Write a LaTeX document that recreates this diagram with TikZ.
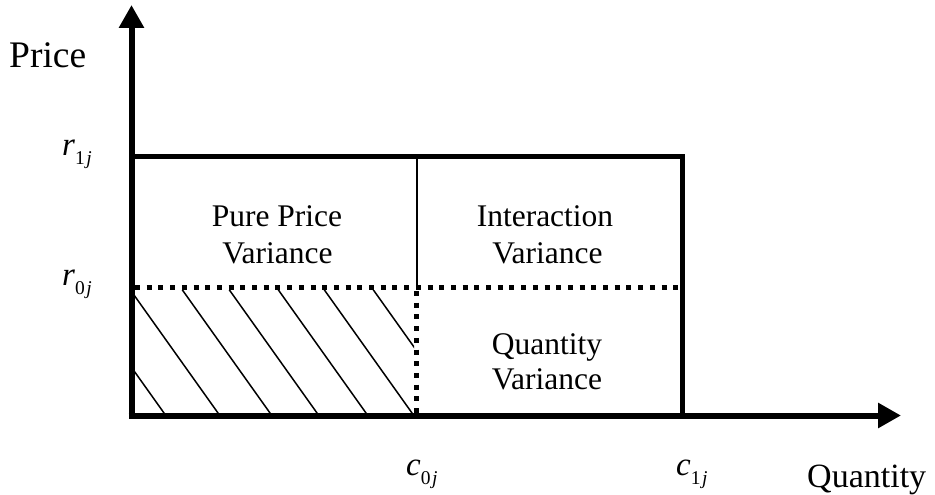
\documentclass[tikz,border=0pt]{standalone}
\usepackage{fontspec}
\setmainfont{Liberation Serif}
\usetikzlibrary{arrows.meta}
% italic letter with a small "digit j" subscript
\newcommand{\varlabel}[3]{{\fontsize{33}{35}\selectfont\textit{#1}}\raisebox{-9pt}{\fontsize{19.5}{20}\selectfont #2\hspace{1.5pt}\textit{#3}}}
\begin{document}
\begin{tikzpicture}[x=1pt,y=-1pt,
  axis/.style={line width=6pt,-{Triangle[width=24pt,length=23pt]}},
  frame/.style={line width=5pt,line join=miter},
  thinline/.style={line width=1.4pt},
  dots/.style={line width=5pt,dash pattern=on 5pt off 6.7pt},
  hatch/.style={line width=1.5pt},
  big/.style={font=\fontsize{36}{40}\selectfont,inner sep=0pt,anchor=base west},
  area/.style={font=\fontsize{31.5}{37}\selectfont,inner sep=0pt,anchor=base},
  sym/.style={inner sep=0pt,anchor=base west}]
\useasboundingbox (0,0) rectangle (935,495);

% corner points of the regions
\coordinate (Yt) at (131.5,5);
\coordinate (Xt) at (901,415.5);
\coordinate (R1) at (131,156);
\coordinate (C1) at (682,156);
\coordinate (C1b) at (682,415);
\coordinate (M1) at (417,156);
\coordinate (M0) at (417,288);
\coordinate (R0) at (135,287.5);
\coordinate (E0) at (683,287.5);
\coordinate (Q0) at (416,291);
\coordinate (Q0b) at (416,413);

% hatched base area
\begin{scope}
  \clip (133.5,290) rectangle (414,412.5);
  \foreach \b in {164,218,270,317,366,412,461}
    \draw[hatch] ({\b-0.712*135},278) -- ({\b+0.712*10},423);
\end{scope}

% dotted boundaries of the base area
\draw[dots] (R0) -- (E0);
\draw[dots] (Q0) -- (Q0b);

% new price / new quantity frame
\draw[thinline] (M1) -- (M0);
\draw[frame] (R1) -- (C1) -- (C1b);

% axes
\draw[axis] (131.5,418.5) -- (Yt);
\draw[axis] (128.5,415.5) -- (Xt);

% axis titles
\node[big,font=\fontsize{37.5}{40}\selectfont] (price) at (9,68) {Price};
\node[big,font=\fontsize{34}{40}\selectfont] (qty) at (807,487) {Quantity};

% tick labels
\node[sym] (r1) at (62,155) {\varlabel{r}{1}{j}};
\node[sym] (r0) at (62,285) {\varlabel{r}{0}{j}};
\node[sym] (c0) at (406,475) {\varlabel{c}{0}{j}};
\node[sym] (c1) at (676,475) {\varlabel{c}{1}{j}};

% region labels
\node[area] (pp1) at (277,226) {Pure Price};
\node[area] (pp2) at (277.5,263) {Variance};
\node[area] (iv1) at (545,226) {Interaction};
\node[area] (iv2) at (547.5,263) {Variance};
\node[area] (qv1) at (547,354) {Quantity};
\node[area] (qv2) at (547,389) {Variance};
\end{tikzpicture}
\end{document}
